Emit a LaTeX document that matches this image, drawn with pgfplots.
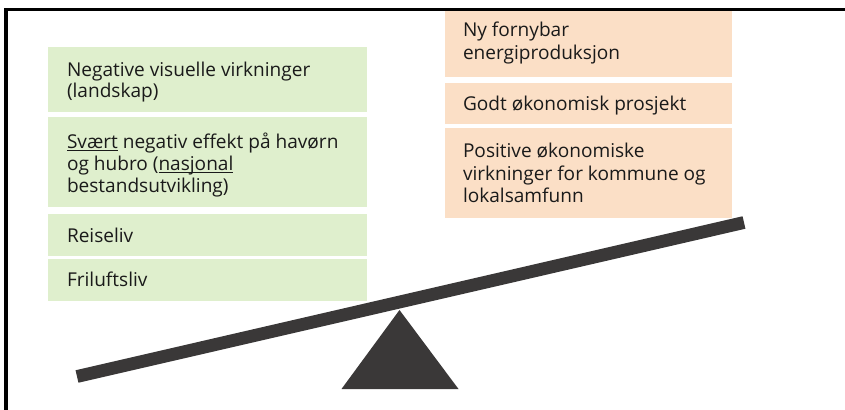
\documentclass[border=0pt]{standalone}
\usepackage{pgfplots}
\pgfplotsset{compat=1.18}
\usepackage{fontspec}
\setmainfont{Open Sans}
\definecolor{boxgreen}{HTML}{DFEFCD}
\definecolor{boxorange}{HTML}{FBDFC6}
\definecolor{beamc}{HTML}{3A3838}
\definecolor{txt}{HTML}{1A1A1A}
\newcommand\ul[1]{\setbox0\hbox{#1}\rlap{\rule[-2.3pt]{\wd0}{0.8pt}}\box0\relax}
\tikzset{lbl/.style={font=\fontsize{14.3}{16}\selectfont, text=txt, anchor=base west, inner sep=0pt, outer sep=0pt}}
\begin{document}
\begin{tikzpicture}
\begin{axis}[
  width=633.75pt, height=307.5pt, scale only axis,
  xmin=0, xmax=845, ymin=0, ymax=410, y dir=reverse,
  hide axis, clip=true,
]
\path (rel axis cs:0,0) rectangle (rel axis cs:1,1);
% green boxes
\addplot[fill=boxgreen, draw=none] coordinates {(48,47) (367,47) (367,112) (48,112)};
\addplot[fill=boxgreen, draw=none] coordinates {(48,117) (367,117) (367,207) (48,207)};
\addplot[fill=boxgreen, draw=none] coordinates {(48,214) (367,214) (367,256) (48,256)};
\addplot[fill=boxgreen, draw=none] coordinates {(48,259) (367,259) (367,301) (48,301)};
% orange boxes
\addplot[fill=boxorange, draw=none] coordinates {(445,11) (732,11) (732,77) (445,77)};
\addplot[fill=boxorange, draw=none] coordinates {(445,83) (732,83) (732,124) (445,124)};
\addplot[fill=boxorange, draw=none] coordinates {(445,128) (732,128) (732,218) (445,218)};
% beam
\addplot[beamc, line width=9.6pt] coordinates {(77,376.5) (744,222.5)};
% fulcrum
\addplot[fill=beamc, draw=none] coordinates {(399.5,310) (458.5,389) (341.5,389)};
% frame
\addplot[black, line width=2.4pt] coordinates {(6,410) (6,9.5) (845,9.5)};
% texts
\node[lbl] at (axis cs:67,76) {Negative visuelle virkninger};
\node[lbl] at (axis cs:67,98) {(landskap)};
\node[lbl] at (axis cs:67,148) {\ul{Svært} negativ effekt på havørn};
\node[lbl] at (axis cs:67,170) {og hubro (\ul{nasjonal}};
\node[lbl] at (axis cs:67,192) {bestandsutvikling)};
\node[lbl] at (axis cs:67,242) {Reiseliv};
\node[lbl] at (axis cs:67,286) {Friluftsliv};
\node[lbl] at (axis cs:463,37) {Ny fornybar};
\node[lbl] at (axis cs:463,60) {energiproduksjon};
\node[lbl] at (axis cs:463,110) {Godt økonomisk prosjekt};
\node[lbl] at (axis cs:463,157) {Positive økonomiske};
\node[lbl] at (axis cs:463,180) {virkninger for kommune og};
\node[lbl] at (axis cs:463,202) {lokalsamfunn};
\end{axis}
\end{tikzpicture}
\end{document}
